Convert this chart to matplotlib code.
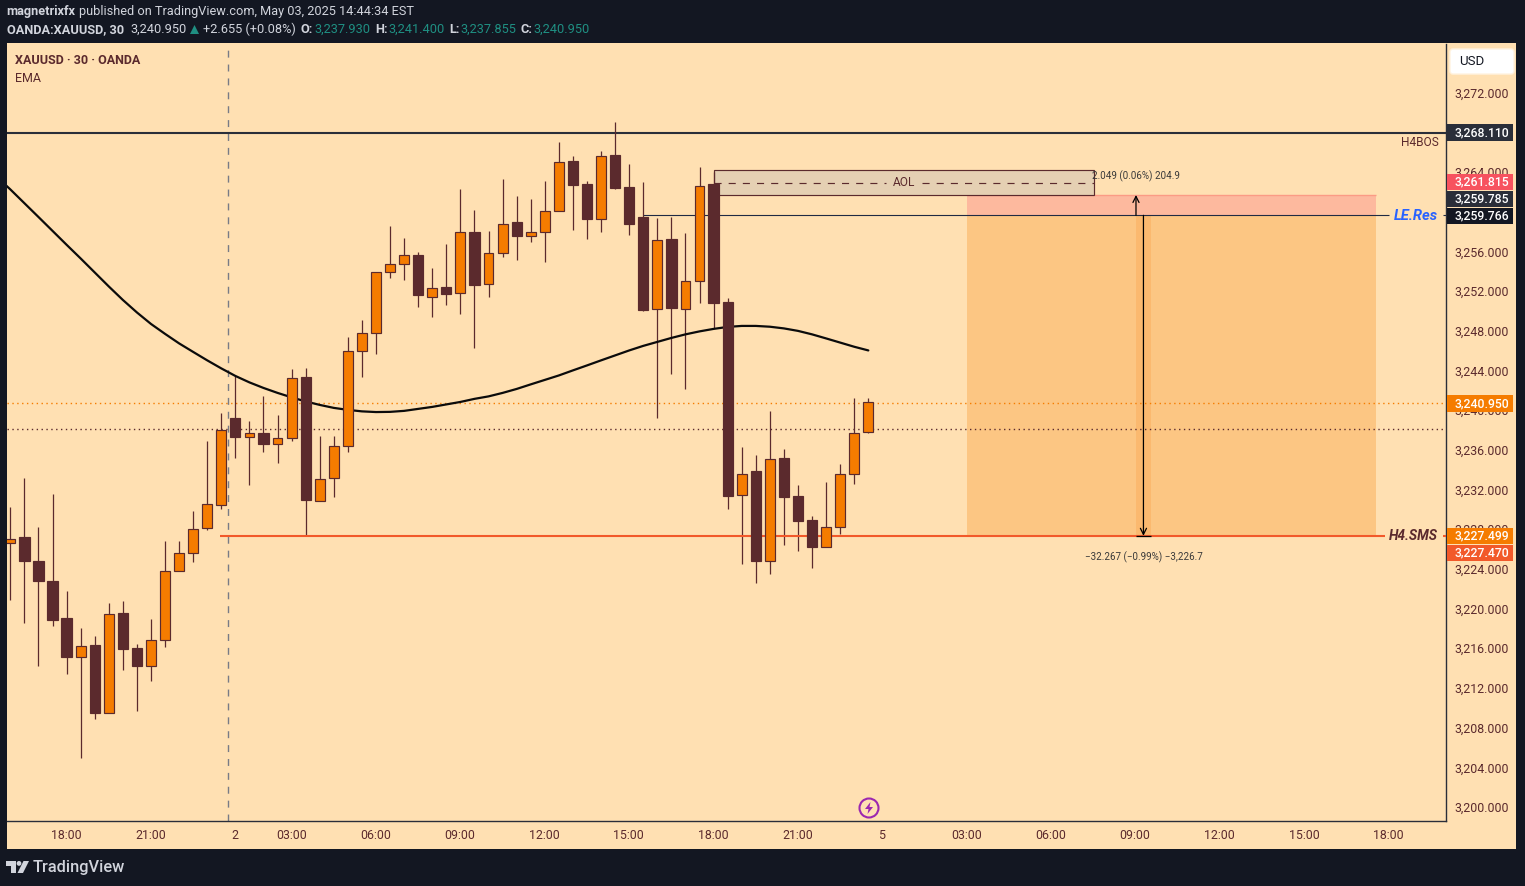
import matplotlib
matplotlib.use("Agg")
from matplotlib import pyplot as plt
from matplotlib.patches import Rectangle, Circle, Polygon, FancyBboxPatch
from matplotlib.transforms import IdentityTransform, ScaledTranslation
import numpy as np

plt.rcParams['font.family'] = ['Roboto', 'DejaVu Sans']

# ------------------------- Data -------------------------

opens = [3226.74, 3227.31, 3224.89, 3222.88, 3219.15, 3215.25, 3216.43, 3209.61, 3219.65, 3216.13, 3214.35,
         3216.97, 3223.92, 3225.73, 3228.25, 3230.57, 3239.30, 3237.42, 3237.86, 3236.72, 3237.32, 3243.43,
         3230.97, 3233.29, 3236.51, 3246.09, 3247.90, 3254.05, 3254.85, 3255.73, 3251.53, 3252.50, 3251.93,
         3258.04, 3252.84, 3255.96, 3259.05, 3257.67, 3258.08, 3260.19, 3265.20, 3262.88, 3259.39, 3265.80,
         3262.58, 3259.56, 3250.32, 3257.34, 3250.32, 3253.14, 3262.91, 3250.99, 3231.58, 3233.96, 3224.93,
         3235.27, 3231.44, 3229.02, 3226.34, 3228.35, 3233.69, 3237.93]
highs = [3230.33, 3233.26, 3228.32, 3231.64, 3221.87, 3218.14, 3217.33, 3220.66, 3220.86, 3216.53, 3219.05,
         3226.91, 3226.91, 3229.93, 3236.98, 3239.80, 3243.53, 3239.00, 3241.52, 3239.60, 3244.24, 3244.34,
         3237.49, 3237.49, 3247.46, 3249.18, 3254.08, 3258.65, 3257.44, 3256.03, 3254.42, 3256.83, 3262.38,
         3260.26, 3258.14, 3263.38, 3261.67, 3261.37, 3263.18, 3267.11, 3265.70, 3263.18, 3266.21, 3269.13,
         3264.90, 3263.08, 3259.45, 3259.59, 3257.94, 3264.59, 3264.12, 3251.39, 3236.38, 3235.57, 3240.01,
         3236.18, 3232.55, 3229.43, 3232.85, 3234.67, 3241.32, 3241.40]
lows = [3220.96, 3218.64, 3214.31, 3218.34, 3213.51, 3205.04, 3208.97, 3209.61, 3213.91, 3209.78, 3212.80,
        3216.23, 3223.92, 3224.79, 3228.02, 3230.13, 3235.27, 3232.55, 3235.88, 3234.77, 3236.98, 3227.41,
        3230.97, 3231.34, 3235.88, 3243.43, 3245.75, 3253.41, 3253.21, 3250.49, 3249.48, 3250.69, 3249.78,
        3246.36, 3251.49, 3255.53, 3255.22, 3257.04, 3255.02, 3260.19, 3258.25, 3257.34, 3258.04, 3262.38,
        3257.74, 3250.08, 3239.30, 3243.74, 3242.22, 3250.89, 3248.44, 3230.13, 3224.59, 3222.68, 3223.58,
        3226.50, 3225.90, 3224.19, 3226.34, 3227.61, 3232.65, 3237.855]
closes = [3227.18, 3224.89, 3222.88, 3218.95, 3215.22, 3216.39, 3209.57, 3219.62, 3216.03, 3214.31, 3217.00,
          3223.95, 3225.77, 3228.18, 3230.70, 3238.16, 3237.39, 3237.86, 3236.68, 3237.35, 3243.40, 3231.04,
          3233.22, 3236.55, 3246.12, 3247.93, 3254.08, 3254.89, 3255.79, 3251.70, 3252.47, 3251.80, 3258.11,
          3252.70, 3256.00, 3258.92, 3257.64, 3258.11, 3260.23, 3265.16, 3262.78, 3259.35, 3265.77, 3262.48,
          3258.85, 3250.18, 3257.31, 3250.39, 3253.17, 3262.75, 3250.89, 3231.44, 3233.73, 3224.89, 3235.24,
          3231.34, 3228.92, 3226.30, 3228.38, 3233.73, 3237.86, 3240.95]

# starts one bar before the first candle, the line runs off the left edge
ema = [3263.69, 3262.38, 3260.99, 3259.60, 3258.20, 3256.80, 3255.42, 3254.01, 3252.60, 3251.24, 3249.98,
       3248.82, 3247.82, 3246.86, 3246.00, 3245.15, 3244.34, 3243.58, 3242.93, 3242.37, 3241.87, 3241.42,
       3241.01, 3240.66, 3240.36, 3240.16, 3240.01, 3239.94, 3239.96, 3240.06, 3240.26, 3240.46, 3240.71,
       3240.96, 3241.27, 3241.52, 3241.87, 3242.27, 3242.73, 3243.18, 3243.63, 3244.14, 3244.64, 3245.15,
       3245.65, 3246.15, 3246.61, 3247.01, 3247.41, 3247.77, 3248.07, 3248.32, 3248.52, 3248.62, 3248.62,
       3248.54, 3248.37, 3248.12, 3247.77, 3247.36, 3246.94, 3246.52, 3246.15]

time_ticks = [4, 10, 16, 20, 26, 32, 38, 44, 50, 56, 62, 68, 74, 80, 86, 92, 98]
time_labels = ["18:00", "21:00", "2", "03:00", "06:00", "09:00", "12:00", "15:00", "18:00", "21:00", "5",
               "03:00", "06:00", "09:00", "12:00", "15:00", "18:00"]
price_ticks = [3200, 3204, 3208, 3212, 3216, 3220, 3224, 3228, 3232, 3236, 3240, 3244, 3248, 3252, 3256,
               3260, 3264, 3268, 3272]

h4bos = 3268.11
le_res = 3259.766
h4sms = 3227.47
last_close = 3240.86
prev_level = 3238.22
aol_top = 3264.3
aol_bottom = 3261.815
target_top = 3261.815
target_mid = 3259.785

price_tags = ["3,268.110", "3,261.815", "3,259.785", "3,259.766", "3,240.950", "3,227.499", "3,227.470"]
tag_colors = ["#2a2e39", "#f7525f", "#2a2e39", "#131722", "#f57c00", "#f57c00", "#f2592a"]
tag_rows = [132.5, 182, 199, 216, 403.5, 536, 553]

# ------------------------- Layout -------------------------

W, H = 1525, 886
DARK = "#131722"
PANEL = "#ffe0b2"
BROWN = "#5b2a2d"
ORANGE = "#f57c00"
RED = "#f2592a"
TEAL = "#1f8f82"
GREY = "#d1d4dc"


def fx(x):
	return x / W


def fy(y):
	return 1 - y / H


def label(x, y, s, **kw):
	kw.setdefault("va", "center")
	kw.setdefault("fontsize", 9)
	return fig.text(fx(x), fy(y), s, **kw)


def px_patch(patch):
	patch.set_transform(IdentityTransform())
	fig.add_artist(patch)


fig = plt.figure(figsize=(W / 100, H / 100), dpi=100, facecolor=DARK)
fig.add_artist(Rectangle((fx(7), fy(849)), fx(1509), 806 / H, transform=fig.transFigure,
                         facecolor=PANEL, edgecolor="none", zorder=-5))

ax = fig.add_axes([fx(7), fy(821), fx(1439), 777 / H])
ax.set_facecolor(PANEL)
ax.set_xlim(-0.235, 102.07)
ax.set_ylim(3198.73, 3277.03)
for side in ["top", "left"]:
	ax.spines[side].set_visible(False)
for side in ["right", "bottom"]:
	ax.spines[side].set_color("#2a2e39")
	ax.spines[side].set_linewidth(1)

ax.yaxis.tick_right()
ax.set_yticks(price_ticks)
ax.set_yticklabels(["{:,.3f}".format(p) for p in price_ticks])
ax.set_xticks(time_ticks)
ax.set_xticklabels(time_labels)
ax.tick_params(axis="both", length=0, labelcolor=BROWN, labelsize=8.9)
ax.tick_params(axis="y", pad=6)
ax.tick_params(axis="x", pad=6)
# nudge the tick labels onto the reference rows
for lab in ax.get_yticklabels():
	lab.set_transform(lab.get_transform() + ScaledTranslation(0, 1.4 / 100, fig.dpi_scale_trans))
for lab in ax.get_xticklabels():
	lab.set_transform(lab.get_transform() + ScaledTranslation(-0.4 / 100, 0, fig.dpi_scale_trans))

# position zones
ax.add_patch(Rectangle((68, target_mid), 29.1, target_top - target_mid, facecolor="#fdb99e",
                       edgecolor="none", zorder=1))
ax.hlines(target_top, 68, 97.1, color="#fb9b85", lw=1, zorder=1)
ax.add_patch(Rectangle((68, h4sms), 29.1, target_mid - h4sms, facecolor="#fcc683", edgecolor="none", zorder=1))
ax.add_patch(Rectangle((80.03, h4sms), 1.05, le_res - h4sms, facecolor="#fbb96f", edgecolor="none", zorder=1.1))

# levels
ax.axhline(last_close, color=ORANGE, lw=1, ls=(0, (1, 2.5)), zorder=1.5)
ax.axhline(prev_level, color=BROWN, lw=1, ls=(0, (1, 2.5)), zorder=1.5)
ax.axvline(15.5, color="#787b86", lw=1, ls=(0, (5, 5)), zorder=1.5)
ax.axhline(h4bos, color="#2a2e39", lw=1.5, zorder=2)
ax.hlines([le_res, le_res], [45, 101.86], [98.02, 102.07], color="#1f2a44", lw=0.8, zorder=2)

# candles
idx = np.arange(len(opens))
o = np.array(opens)
c = np.array(closes)
up = c >= o
ax.vlines(idx, lows, highs, color=BROWN, lw=0.9, zorder=3)
ax.bar(idx[up], (c - o)[up], bottom=o[up], width=0.7, color=ORANGE, edgecolor=BROWN, lw=0.85, zorder=4)
ax.bar(idx[~up], (o - c)[~up], bottom=c[~up], width=0.73, color=BROWN, edgecolor=BROWN, lw=0.85, zorder=4)

# EMA
ax.plot(np.arange(-1, len(ema) - 1), ema, color="#0b0b0b", lw=1.6, zorder=3.5, solid_capstyle="round")

# AOL box, sits under the last big candle
ax.add_patch(Rectangle((50, aol_bottom), 27.05, aol_top - aol_bottom, facecolor="#e5d0b3", edgecolor=BROWN,
                       lw=0.85, zorder=2.5))
aol_mid = (aol_top + aol_bottom) / 2
ax.hlines(aol_mid, 50, 62.25, color=BROWN, lw=0.85, ls=(0, (6, 6)), zorder=2.6)
ax.hlines(aol_mid, 64.8, 77.05, color=BROWN, lw=0.85, ls=(0, (6, 6)), zorder=2.6)
ax.text(63.55, aol_mid, "AOL", color=BROWN, fontsize=8.6, ha="center", va="center", zorder=2.7)

# H4.SMS line
ax.hlines([h4sms, h4sms], [14.9, 101.86], [97.76, 102.07], color=RED, lw=1.5, zorder=3.2)

# measure arrows
ax.annotate("", xy=(80.03, target_top), xytext=(80.03, le_res),
            arrowprops=dict(arrowstyle="->", color="black", lw=0.9, shrinkA=0, shrinkB=0, mutation_scale=11), zorder=5)
ax.annotate("", xy=(80.56, h4sms), xytext=(80.56, le_res),
            arrowprops=dict(arrowstyle="->", color="black", lw=0.9, shrinkA=0, shrinkB=0, mutation_scale=11), zorder=5)
ax.hlines(h4sms, 80.03, 81.08, color="black", lw=0.9, zorder=5)
ax.text(80.03, 3263.7, "2.049 (0.06%) 204.9", color="#3a3a3a", fontsize=7.1,
        ha="center", va="center", zorder=6)
ax.text(80.56, 3225.35, "\u221232.267 (\u22120.99%) \u22123,226.7", color="#3a3a3a", fontsize=7.1,
        ha="center", va="center", zorder=6)

# ------------------------- Text around the chart -------------------------

label(6.5, 12, "magnetrixfx", color=GREY, fontsize=9.2, fontweight="bold")
label(79, 12, "published on TradingView.com, May 03, 2025 14:44:34 EST", color=GREY, fontsize=9.2)
label(6.5, 29.5, "OANDA:XAUUSD, 30", color=GREY, fontsize=9.2, fontweight="bold")
label(130.5, 29.5, "3,240.950", color=GREY, fontsize=9.2)
px_patch(Polygon([(190, H - 34), (199, H - 34), (194.5, H - 25)], closed=True, facecolor=TEAL, edgecolor="none"))
label(203, 29.5, "+2.655 (+0.08%)", color=GREY, fontsize=9.2)
for x0, x1, name, val in [(300.5, 314, "O:", "3,237.930"), (375.5, 388, "H:", "3,241.400"),
                          (449.5, 460.5, "L:", "3,237.855"), (520.5, 533.5, "C:", "3,240.950")]:
	label(x0, 29.5, name, color=GREY, fontsize=9.2, fontweight="bold")
	label(x1, 29.5, val, color=TEAL, fontsize=9.2)

label(15, 61, "XAUUSD \u00b7 30 \u00b7 OANDA", color=BROWN, fontsize=9, fontweight="bold")
label(15, 78, "EMA", color=BROWN, fontsize=9)
label(1439, 143, "H4BOS", color=BROWN, fontsize=8.6, ha="right")
label(1438, 215.5, "LE.Res", color="#2962ff", fontsize=10.6, fontweight="bold", style="italic", ha="right")
label(1438, 535.5, "H4.SMS", color=BROWN, fontsize=9.9, fontweight="bold", style="italic", ha="right")

# price tags on the axis
for tag, col, row in zip(price_tags, tag_colors, tag_rows):
	fig.add_artist(Rectangle((fx(1447), fy(row + 8.3)), fx(66), 16.6 / H, transform=fig.transFigure,
	                         facecolor=col, edgecolor="none", zorder=3))
	label(1481.5, row, tag, color="white", fontsize=8.8, fontweight="medium", ha="center", zorder=4)

# USD button
px_patch(FancyBboxPatch((1452, H - 72), 60, 21, boxstyle="round,pad=2,rounding_size=3",
                        facecolor="white", edgecolor="#fff3e0", lw=1, zorder=3))
label(1459, 61.5, "USD", color="#131722", fontsize=9.5, zorder=4)

# lightning icon
px_patch(Circle((869, H - 808), 9.5, facecolor=PANEL, edgecolor="#9c27b0", lw=1.5, zorder=3))
px_patch(Polygon([(870.5, H - 802), (865, H - 809), (868.5, H - 809), (867.5, H - 814), (873, H - 807),
                  (869.5, H - 807)], closed=True, facecolor="#9c27b0", edgecolor="none", zorder=4))

# TradingView logo
px_patch(Polygon([(6, H - 861), (16, H - 861), (16, H - 873), (11, H - 873), (11, H - 866), (6, H - 866)],
                 closed=True, facecolor=GREY, edgecolor="none", zorder=3))
px_patch(Circle((19, H - 863.4), 2.4, facecolor=GREY, edgecolor="none", zorder=3))
px_patch(Polygon([(23.5, H - 861), (29, H - 861), (23, H - 873), (17.5, H - 873)], closed=True,
                 facecolor=GREY, edgecolor="none", zorder=3))
label(33, 867.5, "TradingView", color=GREY, fontsize=11.8, fontweight="medium")

fig.savefig("out.png", dpi=100, facecolor=DARK)
